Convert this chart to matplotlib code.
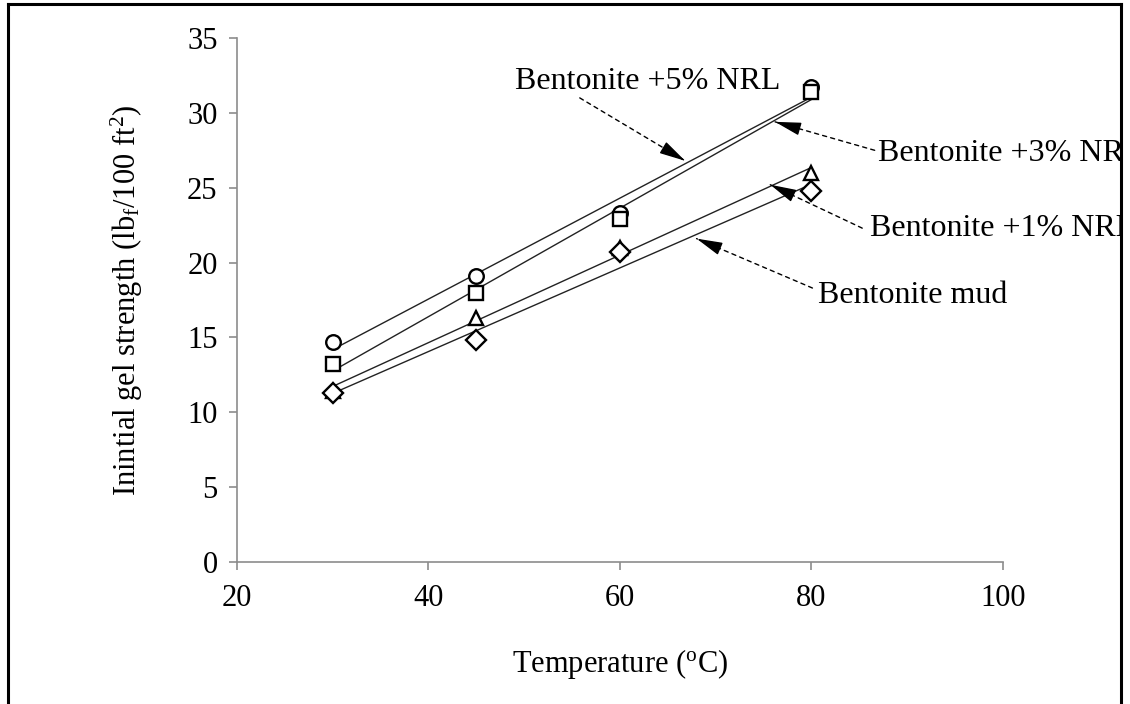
import numpy as np
import matplotlib
matplotlib.use("Agg")
import matplotlib.pyplot as plt
from matplotlib.lines import Line2D
from matplotlib.patches import Rectangle

plt.rcParams['font.family'] = ['Liberation Serif', 'DejaVu Serif']
plt.rcParams['mathtext.fontset'] = 'custom'
plt.rcParams['mathtext.rm'] = 'Liberation Serif'
plt.rcParams['mathtext.it'] = 'Liberation Serif:italic'

# gel strength readings at each temperature
temperature = [30, 45, 60, 80]
nrl_5 = [14.7, 19.1, 23.3, 31.7]
nrl_3 = [13.2, 18.0, 22.9, 31.4]
nrl_1 = [11.4, 16.3, 21.0, 26.0]
mud = [11.3, 14.8, 20.7, 24.8]

series = [
    (nrl_5, 'o', 10.5),
    (nrl_3, 's', 10.5),
    (nrl_1, '^', 10.5),
    (mud, 'D', 10.5),
]

fig = plt.figure(figsize=(11.3, 7.04), dpi=100)
ax = fig.add_axes([0.2097, 0.2017, 0.6779, 0.7443])

x = np.array(temperature)
for vals, mk, ms in series:
    ax.plot(x, vals, linestyle='none', marker=mk, markersize=ms,
            markerfacecolor='white', markeredgecolor='black',
            markeredgewidth=1.7, zorder=3)
    # linear trend line
    k, b = np.polyfit(x, vals, 1)
    ax.plot([x[0], x[-1]], [k * x[0] + b, k * x[-1] + b],
            color='#222222', linewidth=1.0, zorder=2)

ax.set_xlim(20, 100)
ax.set_ylim(0, 35)
ax.set_xticks([20, 40, 60, 80, 100])
ax.set_yticks(range(0, 36, 5))
for s in ['top', 'right']:
    ax.spines[s].set_visible(False)
for s in ['left', 'bottom']:
    ax.spines[s].set_color('#8c8c8c')
    ax.spines[s].set_linewidth(1.2)
ax.tick_params(colors='#8c8c8c', labelcolor='black', labelsize=22,
               length=6, width=1.2, direction='out')
ax.tick_params(axis='x', pad=10)
ax.tick_params(axis='y', pad=8)

ax.set_xlabel("Temperature ($^{\\mathrm{o}}$C)", fontsize=22, labelpad=24)
ax.set_ylabel("Inintial gel strength (lb$_{\\mathrm{f}}$/100 ft$^{2}$)",
              fontsize=22, labelpad=30)

# labels with dashed leader lines and solid arrowheads
dashed = dict(arrowstyle='-', linestyle=(0, (3, 3)), color='black',
              linewidth=1.0, shrinkA=0, shrinkB=0)
head_style = dict(arrowstyle='-|>,head_length=1.6,head_width=0.4',
                  color='black', linewidth=1.0, shrinkA=0, shrinkB=0)
notes = [
    ("Bentonite +5% NRL", (66.8, 26.8), (55.8, 31.0), (49.0, 32.1)),
    ("Bentonite +3% NRL", (76.2, 29.4), (86.6, 27.5), (86.9, 27.3)),
    ("Bentonite +1% NRL", (75.7, 25.2), (85.3, 22.3), (86.1, 22.3)),
    ("Bentonite mud", (68.0, 21.6), (80.1, 18.3), (80.7, 17.8)),
]
for label, head, tail, pos in notes:
    ax.annotate('', xy=head, xytext=tail, arrowprops=dashed)
    near = (head[0] + 0.12 * (tail[0] - head[0]),
            head[1] + 0.12 * (tail[1] - head[1]))
    ax.annotate('', xy=head, xytext=near, arrowprops=head_style)
    ax.text(pos[0], pos[1], label, fontsize=23, va='center', ha='left',
            clip_on=False)

# outer frame, open at the bottom
W, H = 1130, 704
fig.add_artist(Rectangle((1123 / W, 0), 7 / W, 1, transform=fig.transFigure,
                         facecolor='white', edgecolor='none', zorder=10))
frame = dict(transform=fig.transFigure, color='black', linewidth=2.2, zorder=11)
fig.add_artist(Line2D([8 / W, 8 / W], [0, 1 - 4 / H], **frame))
fig.add_artist(Line2D([8 / W, 1121 / W], [1 - 4 / H, 1 - 4 / H], **frame))
fig.add_artist(Line2D([1121 / W, 1121 / W], [0, 1 - 4 / H], **frame))

fig.savefig("out.png", dpi=100)
